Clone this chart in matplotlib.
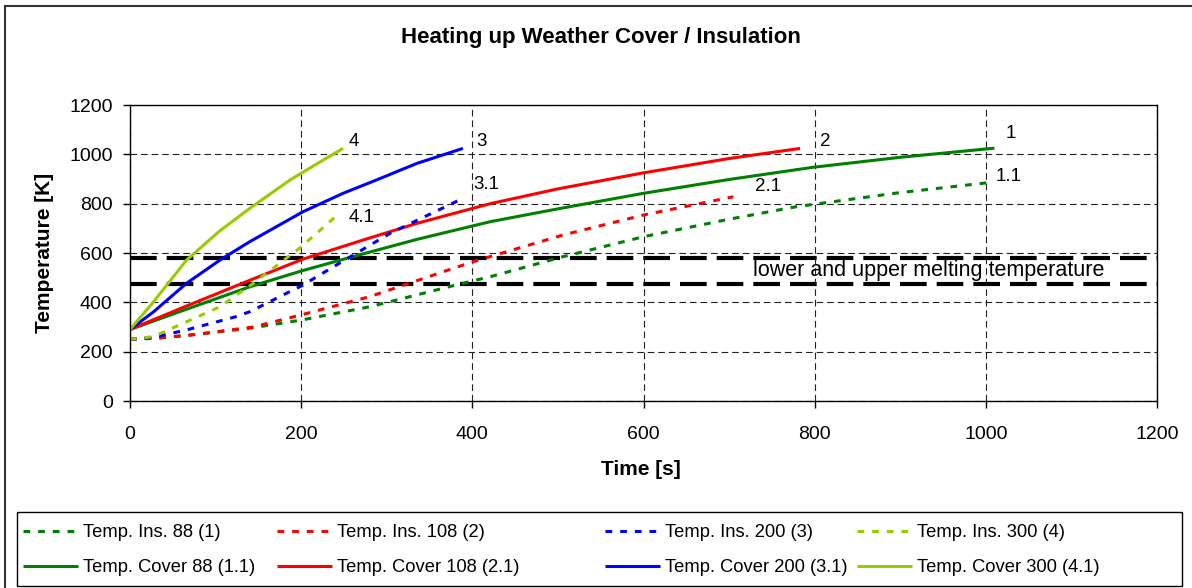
import matplotlib
matplotlib.use("Agg")
import matplotlib.pyplot as plt
from matplotlib.patches import Rectangle
from matplotlib import rcParams

rcParams["font.family"] = ["Liberation Sans", "DejaVu Sans"]

# time [s] / temperature [K]
ins88_t = [0, 35, 82, 140, 200, 280, 335, 385, 421, 506, 600, 700, 779, 900, 1005]
ins88_T = [250, 255, 272, 295, 328, 382, 430, 474, 504, 585, 666, 737, 788, 845, 886]
cov88_t = [0, 66, 140, 200, 257, 335, 421, 500, 600, 700, 797, 900, 1010]
cov88_T = [290, 372, 463, 527, 582, 655, 727, 779, 842, 898, 947, 988, 1025]

ins108_t = [0, 66, 144, 200, 280, 337, 401, 506, 600, 705]
ins108_T = [250, 265, 300, 349, 423, 490, 565, 673, 754, 828]
cov108_t = [0, 66, 144, 202, 270, 335, 421, 500, 600, 700, 783]
cov108_T = [290, 385, 495, 575, 650, 720, 800, 860, 925, 983, 1024]

ins200_t = [0, 27, 66, 124, 140, 183, 200, 241, 304, 385]
ins200_T = [250, 258, 288, 342, 362, 437, 466, 551, 680, 815]
cov200_t = [0, 27, 66, 105, 140, 202, 249, 288, 335, 389]
cov200_T = [290, 360, 477, 571, 646, 767, 842, 896, 963, 1024]

ins300_t = [0, 27, 66, 105, 144, 199, 245]
ins300_T = [250, 261, 321, 382, 477, 622, 762]
cov300_t = [0, 27, 66, 105, 140, 187, 220, 249]
cov300_T = [290, 400, 571, 690, 781, 896, 965, 1024]

melt_T = [578, 474]

curve_labels = ["4", "4.1", "3", "3.1", "2", "2.1", "1", "1.1"]
label_t = [255, 255, 405, 401, 806, 730, 1023, 1012]
label_T = [1050, 742, 1050, 876, 1050, 868, 1086, 912]

green = "#008000"
red = "#FF0000"
blue = "#0000FF"
lime = "#99CC00"

W, H = 1192, 588
fig = plt.figure(figsize=(W/100, H/100), dpi=100)
ax = fig.add_axes([130/W, 1-401/H, 1027/W, 296/H])

dot = dict(lw=2.2, dashes=(2.2, 2.6))
sol = dict(lw=2.2)

series = [
    (ins88_t, ins88_T, green, dot, "Temp. Ins. 88 (1)"),
    (cov88_t, cov88_T, green, sol, "Temp. Cover 88 (1.1)"),
    (ins108_t, ins108_T, red, dot, "Temp. Ins. 108 (2)"),
    (cov108_t, cov108_T, red, sol, "Temp. Cover 108 (2.1)"),
    (ins200_t, ins200_T, blue, dot, "Temp. Ins. 200 (3)"),
    (cov200_t, cov200_T, blue, sol, "Temp. Cover 200 (3.1)"),
    (ins300_t, ins300_T, lime, dot, "Temp. Ins. 300 (4)"),
    (cov300_t, cov300_T, lime, sol, "Temp. Cover 300 (4.1)"),
]
handles = []
for t, T, c, st, lab in series:
    h, = ax.plot(t, T, color=c, label=lab, solid_capstyle="butt", dash_capstyle="butt",
                 solid_joinstyle="round", **st)
    handles.append(h)

for m in melt_T:
    ax.axhline(m, color="black", lw=3.0, dashes=(6.4, 2.4), zorder=1)
ax.text(728, 531, "lower and upper melting temperature", fontsize=15.5, va="center", ha="left")

for s, x, y in zip(curve_labels, label_t, label_T):
    ax.text(x, y, s, fontsize=13.5, ha="left", va="center")

ax.set_xlim(0, 1200)
ax.set_ylim(0, 1200)
ax.set_xticks(range(0, 1201, 200))
ax.set_yticks(range(0, 1201, 200))
ax.grid(True, color="#222222", lw=0.8, dashes=(6, 3.5))
ax.set_axisbelow(True)
ax.tick_params(direction="out", length=5, width=1, labelsize=14)
ax.tick_params(axis="x", pad=13)
ax.tick_params(axis="y", pad=7.5)
for sp in ax.spines.values():
    sp.set_linewidth(1)

ax.set_xlabel("Time [s]", fontsize=15, fontweight="bold")
ax.set_ylabel("Temperature [K]", fontsize=15, fontweight="bold")
ax.xaxis.set_label_coords(0.4976, -0.2)
ax.yaxis.set_label_coords((54.5-130)/1027, 0.5)

fig.text(601/W, 1-37/H, "Heating up Weather Cover / Insulation", ha="center", va="center",
         fontsize=16, fontweight="bold")

# legend: four columns placed like the reference, one shared frame
col_x = [23, 277, 605, 857]
for i, x in enumerate(col_x):
    fig.legend(handles=handles[2*i:2*i+2], loc="upper left",
               bbox_to_anchor=(x/W, 1-524/H), bbox_transform=fig.transFigure,
               fontsize=13.2, frameon=False, handlelength=3.0, handletextpad=0.27,
               borderpad=0, borderaxespad=0, labelspacing=1.0)
fig.add_artist(Rectangle((17/W, 1-586/H), 1165/W, 74/H, transform=fig.transFigure,
                         fill=False, edgecolor="black", lw=1))

fig.add_artist(Rectangle((5/W, -0.05), 1.1, 1-6/H+0.05, transform=fig.transFigure,
                         fill=False, edgecolor="#333333", lw=1.5))

fig.savefig("out.png", dpi=100)
